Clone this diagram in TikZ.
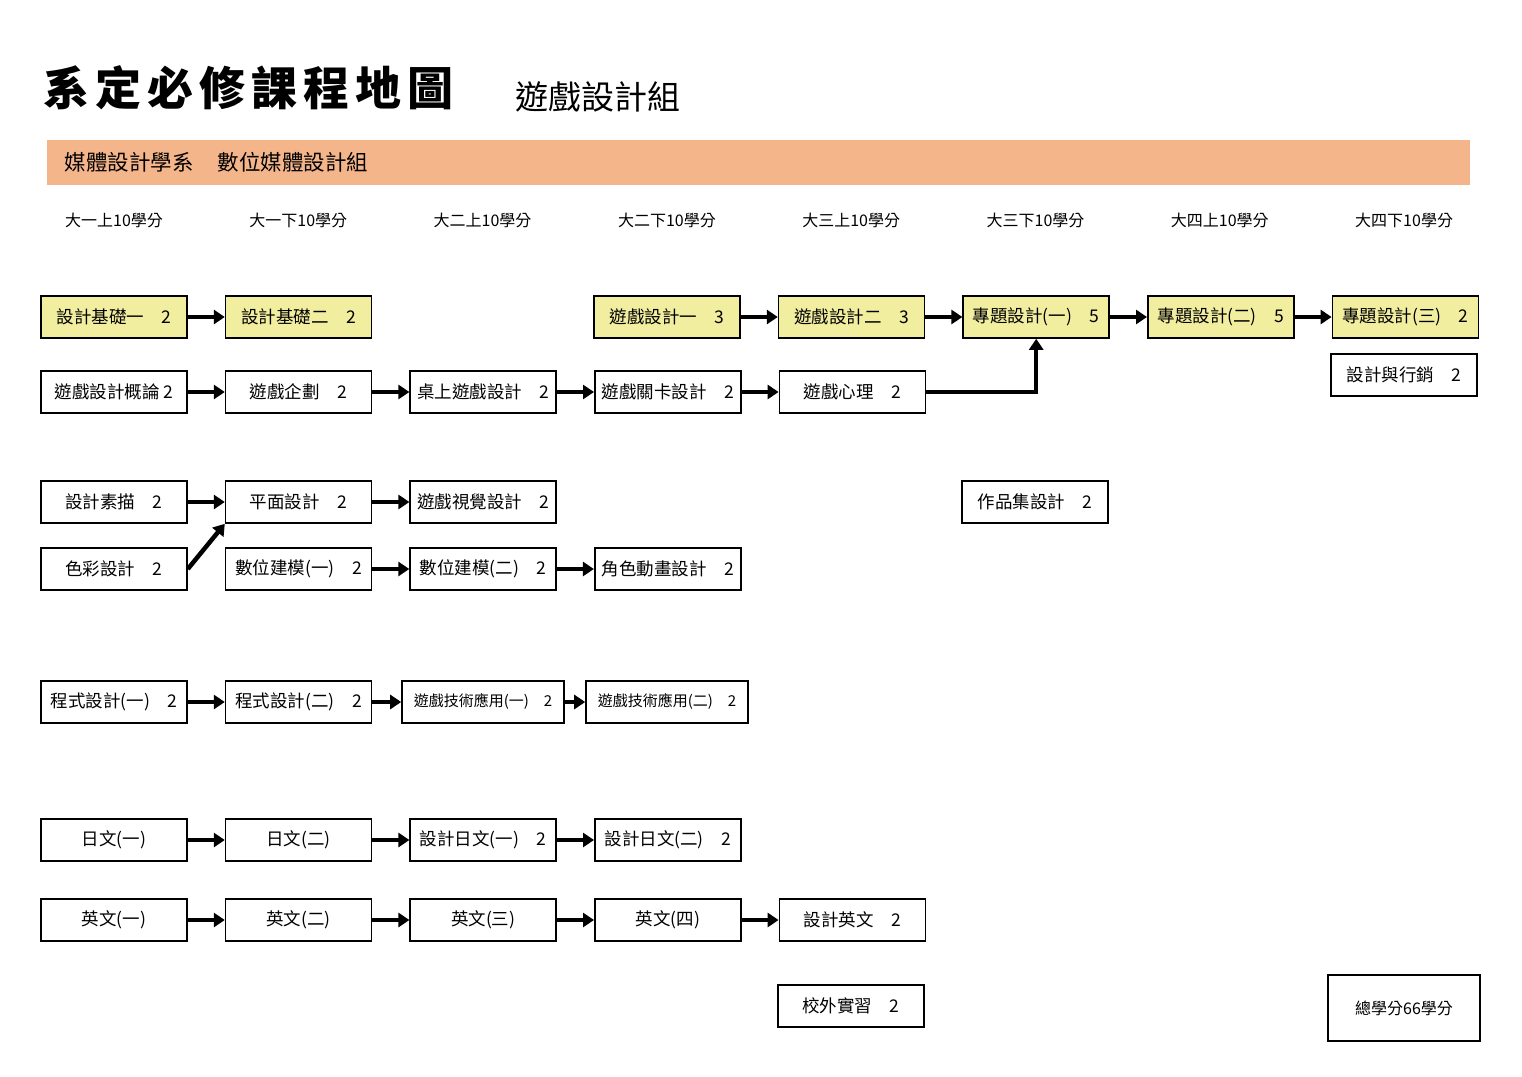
\documentclass[tikz,border=0pt]{standalone}
\usepackage{fontspec}
\setmainfont{Noto Sans CJK TC}
\usetikzlibrary{arrows.meta,positioning}
\definecolor{mapyellow}{HTML}{F2EEA0}
\definecolor{mappeach}{HTML}{F4B58B}
\newcommand\tsp{\hspace{6pt}}

\begin{document}
\begin{tikzpicture}[x=1pt, y=-1pt,
    node distance=37pt,
    course/.style={draw=black, line width=1.6pt, fill=white,
                   minimum width=146pt, minimum height=42pt, inner sep=2pt,
                   font=\fontsize{17.5}{20}\selectfont},
    core/.style={course, fill=mapyellow},
    wide/.style={course, minimum width=162pt, font=\fontsize{15}{18}\selectfont},
    sem/.style={font=\fontsize{16}{19}\selectfont},
    arrow/.style={-{Triangle[length=11pt,width=14pt]}, line width=4.5pt}
  ]
    \useasboundingbox (0,0) rectangle (1522,1076);
    % heading
    \node[anchor=west, font=\fontsize{46}{50}\selectfont\bfseries] (title) at (40,88)
      {系\tsp{}定\tsp{}必\tsp{}修\tsp{}課\tsp{}程\tsp{}地\tsp{}圖};
    \node[anchor=west, font=\fontsize{33}{38}\selectfont] (group) at (512,97) {遊戲設計組};
    \fill[mappeach] (47,140) rectangle (1470,185);
    \node[anchor=west, font=\fontsize{21.5}{25}\selectfont] (dept) at (61,162)
      {媒體設計學系\hspace{24pt}數位媒體設計組};
    % semesters
    \foreach \lbl [count=\i] in {大一上,大一下,大二上,大二下,大三上,大三下,大四上,大四下}
      \node[sem] (s\i) at ({114+184.3*(\i-1)},220) {\lbl{}10學分};

    % row 1
    \node[core] (base1) at (114,317) {設計基礎一　2};
    \node[core, right=of base1] (base2) {設計基礎二　2};
    \node[core] (gd1) at (667,317) {遊戲設計一　3};
    \node[core, right=of gd1] (gd2) {遊戲設計二　3};
    \node[core, right=of gd2] (proj1) {專題設計(一)　5};
    \node[core, right=of proj1] (proj2) {專題設計(二)　5};
    \node[core, right=of proj2] (proj3) {專題設計(三)　2};
    \node[course] (market) at (1404,375) {設計與行銷　2};
    % row 2
    \node[course] (intro) at (114,392) {遊戲設計概論 2};
    \node[course, right=of intro] (plan) {遊戲企劃　2};
    \node[course, right=of plan] (board) {桌上遊戲設計　2};
    \node[course, right=of board] (level) {遊戲關卡設計　2};
    \node[course, right=of level] (psy) {遊戲心理　2};
    % rows 3 and 4
    \node[course] (sketch) at (114,502) {設計素描　2};
    \node[course, right=of sketch] (graphic) {平面設計　2};
    \node[course, right=of graphic] (visual) {遊戲視覺設計　2};
    \node[course] (folio) at (1035,502) {作品集設計　2};
    \node[course] (colour) at (114,569) {色彩設計　2};
    \node[course] (model1) at (298.5,569) {數位建模(一)　2};
    \node[course, right=of model1] (model2) {數位建模(二)　2};
    \node[course, right=of model2] (anim) {角色動畫設計　2};
    % row 5
    \node[course] (prog1) at (114,702) {程式設計(一)　2};
    \node[course, right=of prog1] (prog2) {程式設計(二)　2};
    \node[wide] (tech1) at (483,702) {遊戲技術應用(一)　2};
    \node[wide] (tech2) at (667,702) {遊戲技術應用(二)　2};
    % languages
    \node[course] (jp1) at (114,840) {日文(一)};
    \node[course, right=of jp1] (jp2) {日文(二)};
    \node[course, right=of jp2] (djp1) {設計日文(一)　2};
    \node[course, right=of djp1] (djp2) {設計日文(二)　2};
    \node[course] (en1) at (114,920) {英文(一)};
    \node[course, right=of en1] (en2) {英文(二)};
    \node[course, right=of en2] (en3) {英文(三)};
    \node[course, right=of en3] (en4) {英文(四)};
    \node[course, right=of en4] (den) {設計英文　2};
    \node[course] (intern) at (851,1006) {校外實習　2};
    \node[course, minimum width=152pt, minimum height=66pt,
          font=\fontsize{16}{19}\selectfont] (total) at (1404,1008) {總學分66學分};

    \draw[arrow] (base1) -- (base2);
    \draw[arrow] (gd1) -- (gd2);
    \draw[arrow] (gd2) -- (proj1);
    \draw[arrow] (proj1) -- (proj2);
    \draw[arrow] (proj2) -- (proj3);
    \draw[arrow] (intro) -- (plan);
    \draw[arrow] (plan) -- (board);
    \draw[arrow] (board) -- (level);
    \draw[arrow] (level) -- (psy);
    \draw[arrow] (psy.east) -| (proj1.south);
    \draw[arrow] (sketch) -- (graphic);
    \draw[arrow] (graphic) -- (visual);
    \draw[arrow] (colour.east) -- (graphic.south west);
    \draw[arrow] (model1) -- (model2);
    \draw[arrow] (model2) -- (anim);
    \draw[arrow] (prog1) -- (prog2);
    \draw[arrow] (prog2) -- (tech1);
    \draw[arrow] (tech1) -- (tech2);
    \draw[arrow] (jp1) -- (jp2);
    \draw[arrow] (jp2) -- (djp1);
    \draw[arrow] (djp1) -- (djp2);
    \draw[arrow] (en1) -- (en2);
    \draw[arrow] (en2) -- (en3);
    \draw[arrow] (en3) -- (en4);
    \draw[arrow] (en4) -- (den);
\end{tikzpicture}
\end{document}
